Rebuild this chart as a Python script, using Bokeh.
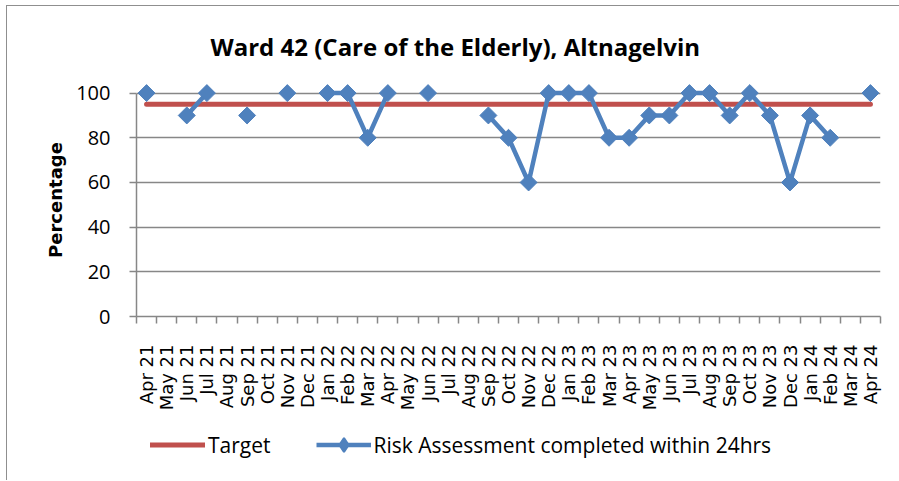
import math
from bokeh.plotting import figure
from bokeh.layouts import column
from bokeh.models import (Range1d, FixedTicker, Legend, LegendItem)
from bokeh.embed import file_html
from bokeh.resources import INLINE

NaN = float("nan")

months = ["Apr 21", "May 21", "Jun 21", "Jul 21", "Aug 21", "Sep 21", "Oct 21",
          "Nov 21", "Dec 21", "Jan 22", "Feb 22", "Mar 22", "Apr 22", "May 22",
          "Jun 22", "Jul 22", "Aug 22", "Sep 22", "Oct 22", "Nov 22", "Dec 22",
          "Jan 23", "Feb 23", "Mar 23", "Apr 23", "May 23", "Jun 23", "Jul 23",
          "Aug 23", "Sep 23", "Oct 23", "Nov 23", "Dec 23", "Jan 24", "Feb 24",
          "Mar 24", "Apr 24"]

risk_assessment = [100, NaN, 90, 100, NaN, 90, NaN,
                   100, NaN, 100, 100, 80, 100, NaN,
                   100, NaN, NaN, 90, 80, 60, 100,
                   100, 100, 80, 80, 90, 90, 100,
                   100, 90, 100, 90, 60, 90, 80,
                   NaN, 100]

target = [95] * len(months)

y_ticks = [0, 20, 40, 60, 80, 100]

title_text = "Ward 42 (Care of the Elderly), Altnagelvin"
y_label = "Percentage"
target_name = "Target"
series_name = "Risk Assessment completed within 24hrs"

BLUE = "#4F81BD"
RED = "#C0504D"
GRID = "#878787"

idx = list(range(len(months)))

W = 892
H_MAIN = 420
H_LEG = 54

p = figure(width=W, height=H_MAIN, output_backend="svg", toolbar_location=None,
           x_range=Range1d(-0.5, len(months) - 0.5), y_range=Range1d(0, 104.3),
           min_border_left=129, min_border_right=19, min_border_top=77,
           min_border_bottom=110)
p.outline_line_color = None
p.background_fill_color = "white"
p.border_fill_color = "white"

# title
p.title.text = title_text
p.title.align = "left"
p.title.offset = 74
p.title.standoff = 41
p.title.text_font = "Open Sans"
p.title.text_font_style = "bold"
p.title.text_font_size = "24px"
p.title.text_color = "black"

# target line
r_target = p.line(idx, target, line_color=RED, line_width=5, line_cap="round")
# series
r_line = p.line(idx, risk_assessment, line_color=BLUE, line_width=4.5, line_join="round")
r_pts = p.scatter(idx, risk_assessment, marker="square", size=12, angle=math.pi / 4,
                  fill_color=BLUE, line_color=BLUE)

# axes
p.xgrid.grid_line_color = None
p.ygrid.grid_line_color = GRID
p.ygrid.grid_line_width = 1.5
p.ygrid.ticker = FixedTicker(ticks=y_ticks)

yax = p.yaxis[0]
yax.ticker = FixedTicker(ticks=y_ticks)
yax.bounds = (0, 100)
yax.axis_line_color = GRID
yax.axis_line_width = 1.5
yax.major_tick_line_color = GRID
yax.major_tick_line_width = 1.5
yax.major_tick_out = 7
yax.major_tick_in = 0
yax.minor_tick_line_color = None
yax.major_label_standoff = 19
yax.major_label_text_font = "Open Sans"
yax.major_label_text_font_size = "20px"
yax.major_label_text_color = "black"
yax.axis_label = y_label
yax.axis_label_text_font = "DejaVu Sans"
yax.axis_label_text_font_style = "bold"
yax.axis_label_text_font_size = "18px"
yax.axis_label_text_color = "black"
yax.axis_label_standoff = 7

xax = p.xaxis[0]
xax.ticker = FixedTicker(ticks=idx, minor_ticks=[i - 0.5 for i in range(len(months) + 1)])
xax.major_label_overrides = {i: m for i, m in enumerate(months)}
xax.major_label_orientation = math.pi / 2
xax.axis_line_color = GRID
xax.axis_line_width = 1.5
xax.major_tick_line_color = None
xax.major_tick_out = 0
xax.major_tick_in = 0
xax.minor_tick_line_color = GRID
xax.minor_tick_line_width = 1.5
xax.minor_tick_out = 7
xax.minor_tick_in = 0
xax.major_label_standoff = 21
xax.major_label_text_font = "DejaVu Sans"
xax.major_label_text_font_size = "18px"
xax.major_label_text_color = "black"

# legend strip (separate small figure holding only the legend; its
# renderers are hidden and only serve as legend swatches)
p2 = figure(width=W, height=H_LEG, output_backend="svg", toolbar_location=None,
            x_range=Range1d(-0.5, len(months) - 0.5), y_range=Range1d(0, 1),
            x_axis_location=None, y_axis_location=None,
            min_border_left=0, min_border_right=0, min_border_top=0, min_border_bottom=0)
p2.outline_line_color = None
p2.xgrid.grid_line_color = None
p2.ygrid.grid_line_color = None
p2.background_fill_color = "white"
p2.border_fill_color = "white"
l_target = p2.line(idx, target, line_color=RED, line_width=5, line_cap="round",
                   visible=False)
l_line = p2.line(idx, risk_assessment, line_color=BLUE, line_width=4.5, visible=False)
l_pts = p2.scatter(idx, risk_assessment, marker="diamond", size=12,
                   fill_color=BLUE, line_color=BLUE, line_width=2, visible=False)

legend = Legend(items=[LegendItem(label=target_name, renderers=[l_target]),
                       LegendItem(label=series_name, renderers=[l_line, l_pts])],
                location=(14, 18), orientation="horizontal",
                glyph_width=55, glyph_height=35, label_standoff=3, spacing=45,
                padding=0, margin=0, border_line_color=None,
                background_fill_alpha=0, inactive_fill_alpha=0,
                label_text_font="Open Sans", label_text_font_size="21px",
                label_text_color="black")
p2.add_layout(legend, "center")

layout = column(p, p2, spacing=0)
layout.styles = {"border-left": "1px solid #8f8f8f", "border-top": "1px solid #8f8f8f",
                 "margin-left": "6px", "margin-top": "5px"}

open("out.html", "w").write(file_html(layout, INLINE))
